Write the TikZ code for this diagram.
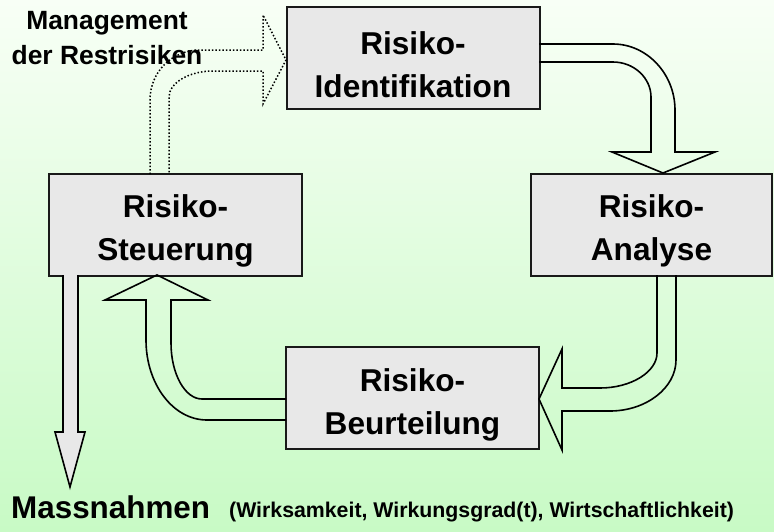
\documentclass[tikz,border=0pt]{standalone}
\usepackage{fontspec}
\setmainfont{Liberation Sans}
\definecolor{boxgray}{HTML}{E8E8E8}
\definecolor{bgtop}{HTML}{F8FFF6}
\definecolor{bgbottom}{HTML}{C8FAC5}

\begin{document}
\begin{tikzpicture}[x=1pt, y=-1pt,
  box/.style={draw=black!90, line width=2pt, fill=boxgray, minimum width=253pt,
    minimum height=102pt, inner sep=0pt, align=center,
    font=\fontsize{31.6}{43}\selectfont\bfseries, text height=72pt, text depth=0pt},
  hollow/.style={draw=black, line width=1.6pt},
  dotarrow/.style={draw=black, line width=1.5pt, dash pattern=on 1.5pt off 2pt}]
  \useasboundingbox (0,0) rectangle (774,531);
  \fill [top color=bgtop, bottom color=bgbottom] (0,0) rectangle (774,531);

  % Kreislauf der Risiko-Boxen
  \node [box, text height=79pt] (ident) at (413,58) {Risiko-\\Identifikation};
  \node [box, minimum width=241pt] (analyse) at (651.5,224.5) {Risiko-\\Analyse};
  \node [box] (beurt) at (412.5,398) {Risiko-\\Beurteilung};
  \node [box] (steuer) at (175.5,224.5) {Risiko-\\Steuerung};

  % Blockpfeile
  \draw [hollow] (539,44) -- (613,44) .. controls (647,44) and (675,74) .. (675,110)
    -- (675,152) -- (715,152) -- (663,173) -- (612,152) -- (651,152) -- (651,97)
    .. controls (651,78) and (634,62) .. (613,62) -- (539,62);
  \draw [hollow] (676,275) -- (676,360) .. controls (676,388) and (646,411) .. (610,411)
    -- (562,411) -- (562,450) -- (539,399) -- (562,349) -- (562,388) -- (600,388)
    .. controls (631,388) and (657,372) .. (657,353) -- (657,275);
  \draw [hollow] (286,399) -- (202,399) .. controls (185,399) and (171,374) .. (171,343)
    -- (171,300) -- (208,300) -- (157,275) -- (105,300) -- (146,300) -- (146,340)
    .. controls (146,384) and (173,420) .. (207,420) -- (286,420);
  \draw [hollow, fill=boxgray] (63,275) -- (63,432) -- (55,432) -- (70,487) -- (85,432)
    -- (78,432) -- (78,275);
  \draw [dotarrow] (150,174) -- (150,100) .. controls (150,72) and (172,50) .. (200,50)
    -- (263,50) -- (263,15) -- (286,60) -- (263,104) -- (263,71) -- (213,71)
    .. controls (189,71) and (169,83) .. (169,97) -- (169,174);

  % Texte
  \node [align=center, font=\fontsize{26.4}{35}\selectfont\bfseries, text height=54pt,
    text depth=0pt, inner sep=0pt] (rest) at (107,37) {Management\\der Restrisiken};
  \node [anchor=base west, inner sep=0pt, font=\fontsize{31.4}{36}\selectfont\bfseries]
    (mass) at (11,518) {Massnahmen};
  \node [anchor=base west, inner sep=0pt, font=\fontsize{21.3}{26}\selectfont\bfseries]
    (krit) at (229,517) {(Wirksamkeit, Wirkungsgrad(t), Wirtschaftlichkeit)};
\end{tikzpicture}
\end{document}
